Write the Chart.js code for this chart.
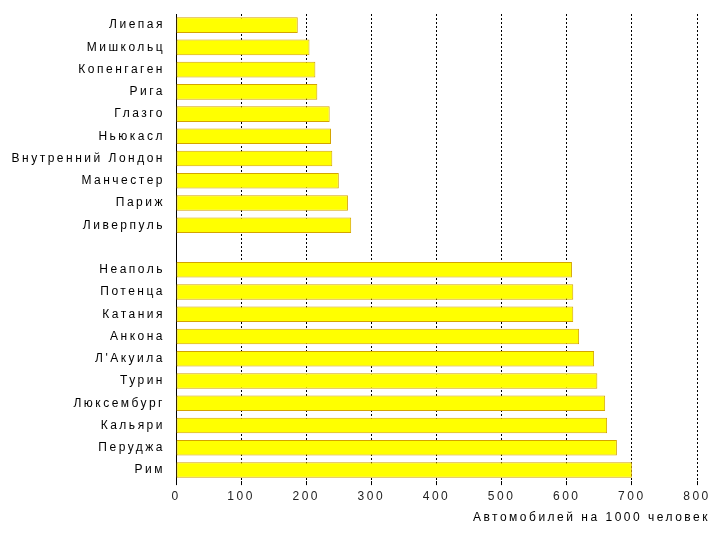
<!DOCTYPE html>
<html>
<head>
<meta charset="utf-8">
<script src="https://cdn.jsdelivr.net/npm/chart.js@4.4.1/dist/chart.umd.min.js"></script>
<style>
html,body{margin:0;padding:0;background:#fff;}
#wrap{width:720px;height:540px;position:relative;}
</style>
</head>
<body>
<div id="wrap"><canvas id="c"></canvas></div>
<script>
const cities = ['Лиепая','Мишкольц','Копенгаген','Рига','Глазго','Ньюкасл','Внутренний Лондон','Манчестер','Париж','Ливерпуль','',
  'Неаполь','Потенца','Катания','Анкона',"Л'Акуила",'Турин','Люксембург','Кальяри','Перуджа','Рим'];
const carsPer1000 = [187,205,214,217,236,238,240,250,264,269,null,
  608,610,610,619,642,647,659,662,677,700];
const xTicks = [0,100,200,300,400,500,600,700,800];
const axisTitle = 'Автомобилей на 1000 человек';

const LS = '2.5px';
const spacing = {
  id:'spacing',
  beforeInit(c){ c.ctx.letterSpacing = LS; },
  beforeUpdate(c){ c.ctx.letterSpacing = LS; },
  beforeDraw(c){ c.ctx.letterSpacing = LS; }
};
const FONT = 'Liberation Sans, Arial, sans-serif';

new Chart(document.getElementById('c'), {
  type:'bar',
  data:{
    labels: cities,
    datasets:[{
      data: carsPer1000,
      backgroundColor:'#FFFF00',
      borderColor:'#D4A400',
      borderWidth:1,
      borderSkipped:false,
      barPercentage:0.7,
      categoryPercentage:1
    }]
  },
  plugins:[spacing],
  options:{
    indexAxis:'y',
    responsive:true,
    maintainAspectRatio:false,
    animation:false,
    layout:{padding:{top:14,right:10,left:0,bottom:0}},
    plugins:{
      legend:{display:false},
      tooltip:{enabled:false},
      title:{
        display:true,
        position:'bottom',
        align:'end',
        text: axisTitle,
        color:'#000',
        font:{family:FONT,size:12,weight:'normal'},
        padding:{top:0,bottom:15}
      }
    },
    scales:{
      x:{
        type:'linear',
        min:0,max:800,
        afterBuildTicks(s){ s.ticks = xTicks.map(v=>({value:v})); },
        grid:{color:'#000',lineWidth:1,tickLength:4,drawTicks:true},
        border:{display:false,dash:[2,2]},
        ticks:{color:'#222',font:{family:FONT,size:12},padding:4,maxRotation:0,autoSkip:false},
        afterFit(s){ s.height = 29.5; }
      },
      y:{
        type:'category',
        grid:{display:false,drawTicks:false},
        border:{display:true,color:'#000',dash:[2,2],width:1},
        ticks:{color:'#000',font:{family:FONT,size:12},padding:11,autoSkip:false},
        afterFit(s){ s.width = 176; s.paddingTop = 0; s.paddingBottom = 0; }
      },
      y2:{
        type:'linear',
        position:'right',
        display:true,
        grid:{display:false},
        border:{display:false},
        ticks:{display:false},
        afterFit(s){ s.width = 13; s.paddingTop = 0; s.paddingBottom = 0; }
      }
    }
  }
});
</script>
</body>
</html>
